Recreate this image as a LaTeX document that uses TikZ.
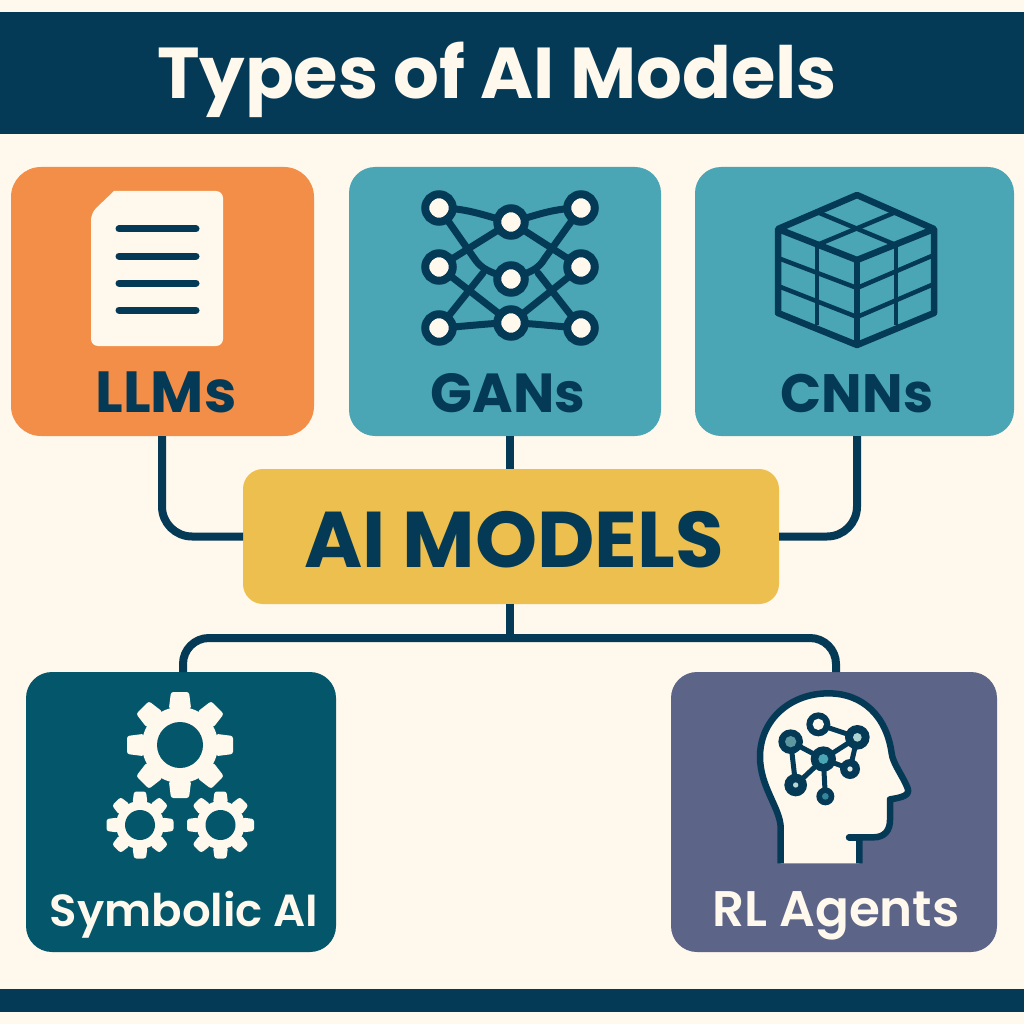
\documentclass[tikz,border=0pt]{standalone}
\usepackage{fontspec}
\setmainfont{Poppins}
\newfontfamily\semi{Poppins SemiBold}
\usetikzlibrary{calc}
\definecolor{cream}{HTML}{FFF8EC}
\definecolor{navy}{HTML}{053A57}
\definecolor{orangeb}{HTML}{F28E47}
\definecolor{tealb}{HTML}{4AA6B5}
\definecolor{yellowb}{HTML}{ECBF4F}
\definecolor{deepteal}{HTML}{04566A}
\definecolor{slateb}{HTML}{5C6488}
\tikzset{
  card/.style={rounded corners=#1,inner sep=0pt,outer sep=0pt},
  conn/.style={draw=navy,line width=8pt,rounded corners=30pt},
  lab/.style={font=\bfseries,text=navy,inner sep=0pt,anchor=base},
  iconline/.style={draw=navy,line cap=round,line width=7pt},
  netedge/.style={draw=navy,line width=7pt,line cap=round},
  netnode/.style={draw=navy,fill=cream,line width=8pt,circle,minimum size=27.5pt,inner sep=0pt},
  cubeouter/.style={draw=navy,line width=6.5pt,line join=round},
  cubeinner/.style={draw=navy,line width=4.5pt},
  headedge/.style={draw=navy,line width=5pt},
}
\newcommand{\gearicon}[6]{% x y outer root hole toothwidth
  \fill[cream] (#1,#2) circle (#4);
  \foreach \a in {0,45,...,315}{
    \fill[cream,rotate around={\a+90:(#1,#2)},rounded corners=2.5pt]
      ($(#1,#2)+(#4-2,-#6*0.62)$) -- ($(#1,#2)+(#3,-#6*0.5)$) -- ($(#1,#2)+(#3,#6*0.5)$) -- ($(#1,#2)+(#4-2,#6*0.62)$) -- cycle;
  }
  \fill[deepteal] (#1,#2) circle (#5);
}
\newcommand{\hnode}[6]{% name x y outer inner colour
  \node[circle,fill=navy,minimum size=#4*2/3*1pt,inner sep=0pt] (#1) at (#2,#3) {};
  \fill[#6] (#2,#3) circle (#5);
}
\begin{document}
\begin{tikzpicture}[x=1pt,y=-1pt]
\useasboundingbox (0,0) rectangle (1024,1024);
\fill[cream] (0,0) rectangle (1024,1024);
\fill[navy] (0,12) rectangle (1024,134);
\fill[navy] (0,989) rectangle (1024,1012);
\node[lab,text=cream,font=\bfseries\fontsize{72}{72}\selectfont] (title) at (497,99) {Types of AI Models};

\node[card=30pt,fill=orangeb,minimum width=303pt,minimum height=269pt] (llm) at (162.5,301.5) {};
\node[card=26pt,fill=tealb,minimum width=312pt,minimum height=269pt] (gan) at (505,301.5) {};
\node[card=26pt,fill=tealb,minimum width=319pt,minimum height=269pt] (cnn) at (854.5,301.5) {};
\node[card=20pt,fill=yellowb,minimum width=536pt,minimum height=135pt] (ai) at (511,536.5) {};
\node[card=26pt,fill=deepteal,minimum width=310pt,minimum height=280pt] (sym) at (181,812) {};
\node[card=26pt,fill=slateb,minimum width=326pt,minimum height=280pt] (rl) at (834,812) {};

\draw[conn] ([xshift=-0.5pt]llm.south) |- (ai.west);
\draw[conn] ([xshift=2.5pt]cnn.south) |- (ai.east);
\draw[conn,rounded corners=0pt] ([xshift=-1pt]ai.north |- gan.south) -- ([xshift=-1pt]ai.north);
\draw[conn,rounded corners=0pt] ([xshift=-1pt]ai.south) -- ([xshift=-1pt,yshift=-35pt]ai.south);
\coordinate (bus) at (510,638);
\draw[conn,rounded corners=26pt] ([xshift=2pt]sym.north) |- (bus) -| ([xshift=2pt]rl.north);

\node[lab,font=\bfseries\fontsize{58}{58}\selectfont] (t1) at (166,412) {LLMs};
\node[lab,font=\bfseries\fontsize{55}{55}\selectfont] (t2) at (508,412) {GANs};
\node[lab,font=\bfseries\fontsize{54}{54}\selectfont] (t3) at (857,412) {CNNs};
\node[lab,font=\bfseries\fontsize{79}{79}\selectfont] (t4) at (514,567) {AI MODELS};
\node[lab,text=cream,font=\semi\fontsize{45}{45}\selectfont] (t5) at (184,926) {Symbolic AI};
\node[lab,text=cream,font=\semi\fontsize{50}{50}\selectfont] (t6) at (836,926) {RL Agents};

\fill[cream,rounded corners=7pt] (114,191) -- (223,191) -- (223,346) -- (91,346) -- (91,213) [sharp corners] -- cycle;
\foreach \y in {229,256,283,310}{\draw[iconline] (119,\y) -- (196,\y);}

\coordinate (n11) at (439,208); \coordinate (n12) at (439,267); \coordinate (n13) at (439,328);
\coordinate (n21) at (511,222); \coordinate (n22) at (511,279); \coordinate (n23) at (511,323);
\coordinate (n31) at (581,208); \coordinate (n32) at (581,267); \coordinate (n33) at (581,328);
\draw[netedge] (n11) .. controls (470,208) and (490,218) .. (n21);
\draw[netedge] (n21) .. controls (530,218) and (550,208) .. (n31);
\draw[netedge] (n13) .. controls (470,326) and (490,323) .. (n23);
\draw[netedge] (n23) .. controls (530,323) and (550,326) .. (n33);
\draw[netedge] (n11) -- (474,258) .. controls (482,270) and (490,272) .. (n22);
\draw[netedge] (n31) -- (545,258) .. controls (538,270) and (530,272) .. (n22);
\draw[netedge] (n12) -- (n21);
\draw[netedge] (n12) -- (n23);
\draw[netedge] (n32) -- (n21);
\draw[netedge] (n32) -- (n23);
\draw[netedge] (n13) -- (483,273);
\draw[netedge] (n33) -- (538,273);
\foreach \c in {n11,n12,n13,n21,n22,n23,n31,n32,n33}{\node[netnode] at (\c) {};}

\draw[cubeouter] (857,195) -- (934,229) -- (934,313) -- (857,345) -- (778,313) -- (778,229) -- cycle;
\draw[cubeouter] (778,229) -- (857,260) -- (934,229);
\draw[cubeouter] (857,260) -- (857,345);
\draw[cubeinner] (817,212) -- (896,245);
\draw[cubeinner] (896,212) -- (817,245);
\draw[cubeinner] (817,245) -- (817,325);
\draw[cubeinner] (896,245) -- (896,325);
\draw[cubeinner] (778,258) -- (857,288) -- (934,255);
\draw[cubeinner] (778,286) -- (857,317) -- (934,284);

\gearicon{180}{745}{53}{38}{23}{18}
\gearicon{140}{825}{33.5}{24}{15}{12}
\gearicon{220.5}{825}{33.5}{24}{15}{12}

\begin{scope}[shift={(740,680)},scale=1/3]
\filldraw[fill=cream,draw=navy,line width=6.5pt,line join=round]
  (122,550) -- (122,440) .. controls (118,380) and (60,320) .. (60,230)
  .. controls (60,120) and (150,40) .. (265,40)
  .. controls (370,40) and (440,110) .. (455,220)
  .. controls (458,250) and (490,290) .. (503,325)
  .. controls (510,345) and (490,352) .. (450,358)
  -- (450,420) .. controls (450,450) and (435,472) .. (400,472)
  -- (358,472) -- (358,550);
\draw[navy,line width=6.5pt,line cap=round] (358,472) -- (327,472);
\draw[headedge] (235,133) -- (352,172);
\draw[headedge] (352,172) -- (250,237);
\draw[headedge] (352,172) -- (330,267);
\draw[headedge] (152,185) -- (250,237);
\draw[headedge] (152,185) -- (167,315);
\draw[headedge] (167,315) -- (250,237);
\draw[headedge] (250,237) -- (256,349);
\draw[headedge] (250,237) -- (330,267);
\hnode{ha}{235}{133}{36}{17}{cream}
\hnode{hb}{152}{185}{37}{17}{tealb!60!gray}
\hnode{hc}{352}{172}{37}{13}{tealb!45!cream}
\hnode{hd}{250}{237}{38}{15}{tealb}
\hnode{he}{330}{267}{30}{8}{cream!80!tealb}
\hnode{hf}{167}{315}{34}{8}{cream!60!tealb}
\hnode{hg}{256}{349}{27}{10}{tealb!70!navy}
\end{scope}
\end{tikzpicture}
\end{document}
